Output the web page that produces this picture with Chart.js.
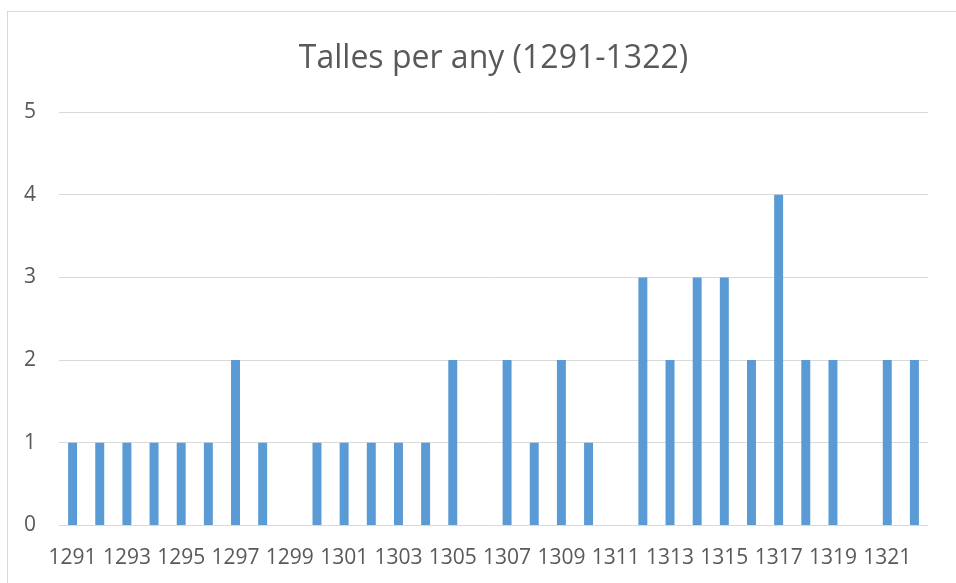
<!DOCTYPE html>
<html>
<head>
<meta charset="utf-8">
<script src="https://cdn.jsdelivr.net/npm/chart.js@4.4.0/dist/chart.umd.min.js"></script>
<style>
  body { margin: 0; background: #fff; }
  #wrap { position: relative; width: 956px; height: 583px; overflow: hidden; }
  #frame { position: absolute; left: 7px; top: 11px; width: 1000px; height: 700px; border: 1px solid #d9d9d9; }
  #c { position: absolute; left: 0; top: 0; }
</style>
</head>
<body>
<div id="wrap">
  <div id="frame"></div>
  <canvas id="c" width="956" height="583"></canvas>
</div>
<script>
const years = [];
for (let y = 1291; y <= 1322; y++) years.push(String(y));
const talles = [1, 1, 1, 1, 1, 1, 2, 1, 0, 1, 1, 1, 1, 1, 2, 0,
                2, 1, 2, 1, 0, 3, 2, 3, 3, 2, 4, 2, 2, 0, 2, 2];
const yTicks = [0, 1, 2, 3, 4, 5];
const chartTitle = "Talles per any (1291-1322)";

const grey = "#595959";
const ctx = document.getElementById("c").getContext("2d");
new Chart(ctx, {
  type: "bar",
  data: {
    labels: years,
    datasets: [{
      label: "Talles",
      data: talles,
      backgroundColor: "#5b9bd5",
      barPercentage: 0.33,
      categoryPercentage: 1
    }]
  },
  options: {
    responsive: false,
    animation: false,
    layout: { padding: { left: 0, right: 28, top: 0, bottom: 0 } },
    plugins: {
      legend: { display: false },
      tooltip: { enabled: false },
      title: {
        display: true,
        fullSize: false, // centre over the plot area, not the whole canvas
        text: chartTitle,
        color: grey,
        font: { family: "Open Sans", size: 32, weight: "normal" },
        padding: { top: 40, bottom: 33.6 }
      }
    },
    scales: {
      x: {
        afterFit: (s) => { s.height = 57.5; },
        grid: { display: false },
        border: { display: false },
        ticks: {
          color: grey,
          font: { family: "Open Sans", size: 21 },
          autoSkip: false,
          maxRotation: 0,
          padding: 12,
          callback: (v, i) => (i % 2 === 0 ? years[i] : "")
        }
      },
      y: {
        min: yTicks[0],
        max: yTicks[yTicks.length - 1],
        afterFit: (s) => { s.width = 59; },
        afterBuildTicks: (s) => { s.ticks = yTicks.map(v => ({ value: v })); },
        grid: { color: "#d9d9d9", lineWidth: 1, drawTicks: false },
        border: { display: false },
        ticks: {
          color: grey,
          font: { family: "Open Sans", size: 21 },
          padding: 23
        }
      }
    }
  }
});
</script>
</body>
</html>
